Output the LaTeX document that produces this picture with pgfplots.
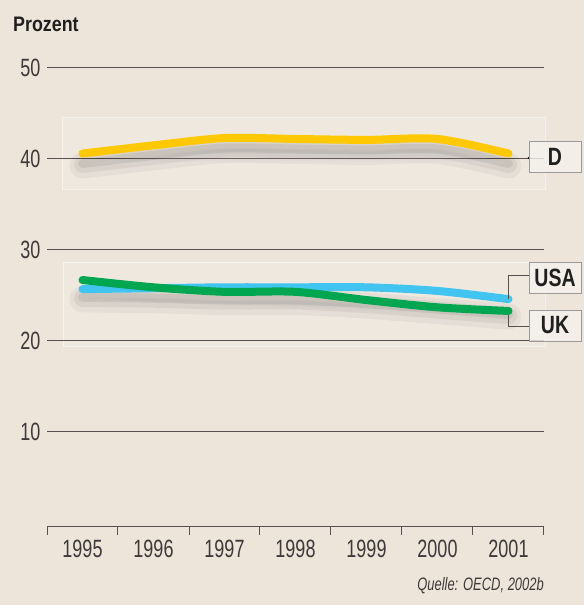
\documentclass[border=0pt]{standalone}
\usepackage{fontspec}
\setmainfont{Liberation Sans}
\newfontfamily\condlight{Liberation Sans}[FakeStretch=0.72]
\newfontfamily\condbold{Liberation Sans}[FakeStretch=0.85]
\newfontfamily\condtag{Liberation Sans}[FakeStretch=0.78]
\usepackage{pgfplots}
\pgfplotsset{compat=1.18}
\definecolor{bg}{RGB}{237,228,218}
\definecolor{gridc}{RGB}{88,80,78}
\definecolor{txt}{RGB}{62,58,58}
\definecolor{dyellow}{RGB}{255,200,0}
\definecolor{usablue}{RGB}{66,196,240}
\definecolor{ukgreen}{RGB}{0,166,80}
\definecolor{boxfill}{RGB}{245,241,236}
\definecolor{shade}{RGB}{115,100,90}
\tikzset{
	shadowA/.style={line width=26pt, shade, opacity=0.04, yshift=-12pt, smooth, tension=0.5, line cap=round},
	shadowB/.style={line width=17pt, shade, opacity=0.05, yshift=-11pt, smooth, tension=0.5, line cap=round},
	shadowC/.style={line width=9pt, shade, opacity=0.07, yshift=-10pt, smooth, tension=0.5, line cap=round},
	dataline/.style={line width=8pt, smooth, tension=0.5, line cap=round, line join=round},
	tag/.style={draw=black!40, fill=boxfill, fill opacity=0.8, text opacity=1, line width=0.8pt,
		minimum width=52pt, minimum height=31pt, inner sep=0pt,
		font=\condtag\bfseries\fontsize{25}{25}\selectfont, text=black!88}
}

\begin{document}
\begin{tikzpicture}[x=1pt,y=1pt]
\fill[bg] (0,0) rectangle (584,605);
\path[use as bounding box] (0,0) rectangle (584,605);
% faint panels behind the groups
\filldraw[fill=white, fill opacity=0.15, draw=white, draw opacity=0.45, line width=0.6pt] (62,416) rectangle (545,488);
\filldraw[fill=white, fill opacity=0.15, draw=white, draw opacity=0.45, line width=0.6pt] (63,259) rectangle (545,343);

\node[anchor=base west, inner sep=0pt, font=\condbold\bfseries\fontsize{21}{21}\selectfont, text=black!88] at (13,573) {Prozent};

\begin{axis}[
	at={(47pt,78pt)}, anchor=south west,
	scale only axis, width=497pt, height=459pt,
	xmin=1994.5, xmax=2001.5, ymin=-0.44, ymax=50,
	axis lines*=left,
	y axis line style={draw=none},
	x axis line style={draw=gridc, line width=1pt, -},
	ytick={10,20,30,40,50},
	ytick style={draw=none},
	ymajorgrids,
	major grid style={draw=gridc, line width=1pt},
	xtick={1994.5,1995.5,...,2001.5},
	xticklabels={},
	xtick align=outside,
	xtick style={draw=gridc, line width=1pt},
	major tick length=8pt,
	extra x ticks={1995,1996,1997,1998,1999,2000,2001},
	extra x tick labels={1995,1996,1997,1998,1999,2000,2001},
	extra x tick style={major tick length=0pt, xmajorgrids=false},
	/pgf/number format/assume math mode=true,
	ticklabel style={font=\condlight\fontsize{25}{25}\selectfont, text=txt},
	xticklabel style={yshift=-10pt},
	yticklabel style={xshift=-3pt},
	clip=false,
]
% soft shadows below the lines
\addplot[shadowA] coordinates {(1995,40.6) (1996,41.5) (1997,42.3) (1998,42.2) (1999,42.1) (2000,42.2) (2001,40.6)};
\addplot[shadowB] coordinates {(1995,40.6) (1996,41.5) (1997,42.3) (1998,42.2) (1999,42.1) (2000,42.2) (2001,40.6)};
\addplot[shadowC] coordinates {(1995,40.6) (1996,41.5) (1997,42.3) (1998,42.2) (1999,42.1) (2000,42.2) (2001,40.6)};
\addplot[shadowA] coordinates {(1995,25.9) (1996,25.8) (1997,25.6) (1998,25.6) (1999,25.2) (2000,24.6) (2001,24.0)};
\addplot[shadowB] coordinates {(1995,25.9) (1996,25.8) (1997,25.6) (1998,25.6) (1999,25.2) (2000,24.6) (2001,24.0)};
\addplot[shadowC] coordinates {(1995,25.9) (1996,25.8) (1997,25.6) (1998,25.6) (1999,25.2) (2000,24.6) (2001,24.0)};
% D
\addplot[dataline, dyellow] coordinates {(1995,40.6) (1996,41.5) (1997,42.3) (1998,42.2) (1999,42.1) (2000,42.2) (2001,40.6)};
% USA
\addplot[dataline, usablue] coordinates {(1995,25.7) (1996,25.8) (1997,25.9) (1998,25.9) (1999,25.9) (2000,25.5) (2001,24.6)};
% UK
\addplot[dataline, ukgreen] coordinates {(1995,26.7) (1996,25.9) (1997,25.4) (1998,25.4) (1999,24.5) (2000,23.7) (2001,23.3)};
\end{axis}

% label connectors and tags
\draw[gridc, line width=0.8pt] (508,306) -- (508,330) -- (529,330);
\draw[gridc, line width=0.8pt] (508,290) -- (508,279) -- (529,279);
\fill[black] (529,447) circle (1.3pt);
\node[tag] at (555,448) {D};
\node[tag] at (555,327.5) {USA};
\node[tag] at (555,279.5) {UK};

\node[anchor=base east, inner sep=0pt, font=\condlight\itshape\fontsize{18}{18}\selectfont, text=txt] at (544,14) {Quelle: OECD, 2002b};
\end{tikzpicture}
\end{document}
